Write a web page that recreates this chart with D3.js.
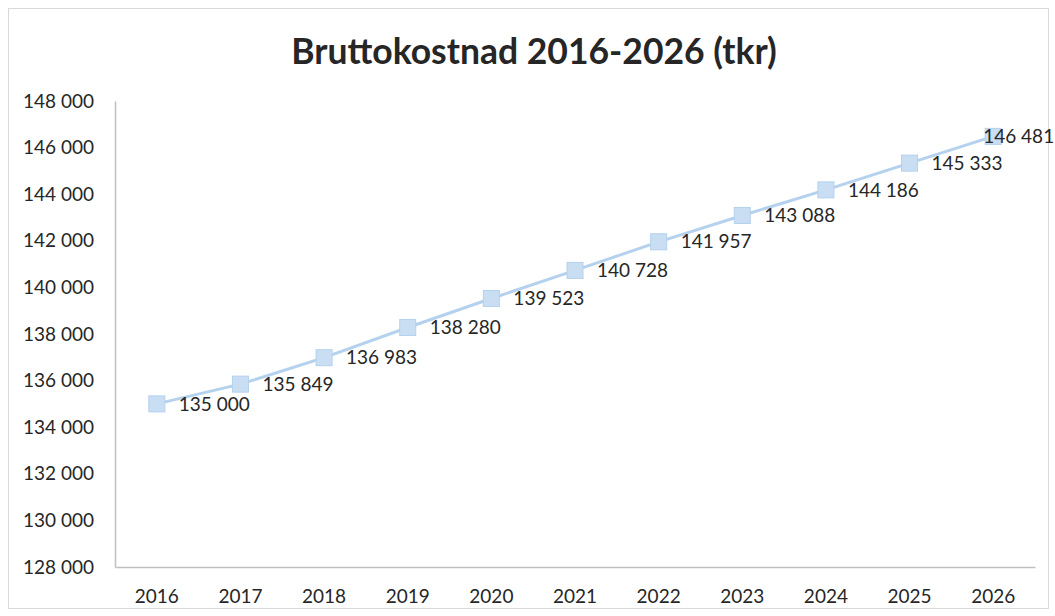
<!DOCTYPE html>
<html>
<head>
<meta charset="utf-8">
<script src="https://cdn.jsdelivr.net/npm/d3@7"></script>
<style>
  html, body { margin: 0; padding: 0; background: #fff; }
  svg { display: block; font-family: Lato, "Open Sans", sans-serif; }
</style>
</head>
<body>
<div id="chart"></div>
<script>
(function () {
  var width  = 1055;
  var height = 616;

  var years  = ["2016", "2017", "2018", "2019", "2020", "2021", "2022", "2023", "2024", "2025", "2026"];
  var values = [135000, 135849, 136983, 138280, 139523, 140728, 141957, 143088, 144186, 145333, 146481];
  var yTicks = [128000, 130000, 132000, 134000, 136000, 138000, 140000, 142000, 144000, 146000, 148000];

  var title = "Bruttokostnad 2016-2026 (tkr)";

  var margin = { top: 101, right: 20, bottom: 49, left: 115 };

  var sv = d3.formatLocale({ decimal: ",", thousands: " ", grouping: [3], currency: ["", " kr"] });
  var fmt = sv.format(",d");

  var svg = d3.select("#chart")
    .append("svg")
    .attr("width", width)
    .attr("height", height);

  // frame
  svg.append("rect")
    .attr("x", 8.5).attr("y", 8.5)
    .attr("width", 1040).attr("height", 600)
    .attr("fill", "#fff")
    .attr("stroke", "#d9d9d9");

  svg.append("text")
    .attr("x", 534)
    .attr("y", 64)
    .attr("text-anchor", "middle")
    .attr("font-size", "35.5px")
    .attr("font-weight", "bold")
    .attr("fill", "#262626")
    .text(title);

  var x = d3.scaleBand()
    .domain(years)
    .range([margin.left, width - margin.right])
    .paddingInner(0).paddingOuter(0);

  var y = d3.scaleLinear()
    .domain([128000, 148000])
    .range([height - margin.bottom, margin.top]);

  var cx = function (i) { return x(years[i]) + x.bandwidth() / 2; };

  // y axis
  var yAxis = svg.append("g")
    .attr("transform", "translate(" + margin.left + ",0)")
    .call(d3.axisLeft(y).tickValues(yTicks).tickFormat(fmt).tickSize(0).tickPadding(20));
  yAxis.select(".domain").attr("stroke", "#bfbfbf").attr("stroke-width", 1.5);
  yAxis.selectAll("text")
    .attr("font-size", "19px")
    .attr("font-family", "Lato, sans-serif")
    .attr("fill", "#262626")
    .attr("text-anchor", "start")
    .attr("x", -92);

  // x axis
  var xAxis = svg.append("g")
    .attr("transform", "translate(0," + (height - margin.bottom) + ")")
    .call(d3.axisBottom(x).tickSize(0).tickPadding(23));
  xAxis.select(".domain").attr("stroke", "#bfbfbf").attr("stroke-width", 1.5);
  xAxis.selectAll("text")
    .attr("font-size", "19px")
    .attr("font-family", "Lato, sans-serif")
    .attr("fill", "#262626");

  // line
  var line = d3.line()
    .x(function (d, i) { return cx(i); })
    .y(function (d) { return y(d); });

  svg.append("path")
    .datum(values)
    .attr("d", line)
    .attr("fill", "none")
    .attr("stroke", "#b4d1ee")
    .attr("stroke-width", 3);

  // markers
  svg.append("g")
    .selectAll("rect")
    .data(values)
    .enter().append("rect")
    .attr("x", function (d, i) { return cx(i) - 8; })
    .attr("y", function (d) { return y(d) - 8; })
    .attr("width", 16)
    .attr("height", 16)
    .attr("fill", "#c9def3")
    .attr("stroke", "#b4d1ee")
    .attr("stroke-width", 1);

  // data labels
  svg.append("g")
    .selectAll("text")
    .data(values)
    .enter().append("text")
    .attr("x", function (d, i) { return i === values.length - 1 ? cx(i) - 10 : cx(i) + 22; })
    .attr("y", function (d) { return y(d); })
    .attr("dy", "0.35em")
    .attr("font-size", "19px")
    .attr("fill", "#262626")
    .text(function (d) { return fmt(d); });
})();
</script>
</body>
</html>
